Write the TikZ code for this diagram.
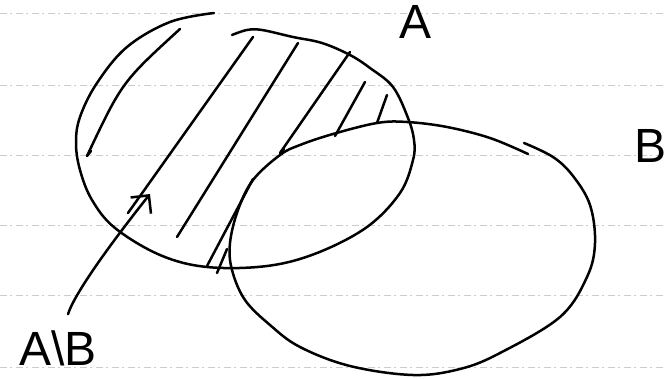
\documentclass[tikz,border=0pt]{standalone}
\usepackage{fontspec}
\setmainfont{Liberation Sans}
\usetikzlibrary{arrows.meta}
\begin{document}
\begin{tikzpicture}[x=1pt,y=-1pt,
  pen/.style={line width=2.5pt,line cap=round,line join=round,black},
  paperline/.style={gray!40,line width=0.8pt,dash pattern=on 7pt off 3pt on 2pt off 4pt},
  hand/.style={inner sep=0pt,font=\fontsize{48}{48}\selectfont}]
\useasboundingbox (0,0) rectangle (666,379);
\fill[white] (0,0) rectangle (666,379);
% ruled paper
\foreach \yy in {13,85,155,225,295,367}
  \draw[paperline] (0,\yy) -- (666,\yy);
% set A (open hand-drawn loop)
\draw[pen] plot[smooth,tension=0.6] coordinates {
  (214,13) (170,22) (127,47) (97,83) (80,117) (76,143) (80,170) (92,200)
  (115,228) (160,255) (207,267) (267,266) (317,253) (367,227) (400,193)
  (413,160) (414,140) (408,118) (393,87) (370,68) (350,55) (322,43)
  (293,37) (262,30) (247,30) (232,35)};
% set B
\draw[pen] plot[smooth,tension=0.6] coordinates {
  (528,154) (490,138) (447,127) (407,122) (377,123) (333,134) (300,145)
  (280,155) (253,180) (238,210) (230,243) (232,270) (245,300) (270,325)
  (300,347) (350,366) (413,375) (460,369) (500,353) (560,317) (587,277)
  (595,243) (590,205) (573,176) (553,157) (524,143)};
% hatching of A \ B
\draw[pen] (180,29) .. controls (122,82) .. (87,156) -- (91,151);
\draw[pen] (253,37) -- (128,213);
\draw[pen] (298,43) -- (177,237);
\draw[pen] (350,52) -- (280,153) -- (284,149);
\draw[pen] (365,82) -- (335,136);
\draw[pen] (387,95) -- (377,123);
\draw[pen] (253,179) -- (207,266);
\draw[pen] (227,249) -- (217,273);
% labels
\node[hand] (labA) at (416,22) {A};
\node[hand] (labB) at (650,146) {B};
\node[hand] (labAB) at (58,348) {A\textbackslash B};
\coordinate (tip) at (150,194);
\draw[pen,-{Straight Barb[length=13pt,width=26pt]}]
  ([shift={(10,-16)}]labAB.north) .. controls (75,292) and (115,238) .. (tip);
\end{tikzpicture}
\end{document}
